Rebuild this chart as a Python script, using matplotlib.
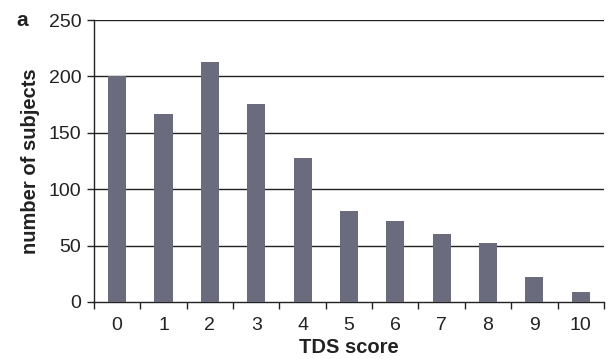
import matplotlib
matplotlib.use("Agg")
import matplotlib.pyplot as plt
import numpy as np

scores = [0, 1, 2, 3, 4, 5, 6, 7, 8, 9, 10]
subjects = [200, 167, 213, 176, 128, 81, 72, 60, 52, 22, 9]
yticks = [0, 50, 100, 150, 200, 250]

plt.rcParams['font.family'] = ['Liberation Sans', 'DejaVu Sans']

fig = plt.figure(figsize=(6.1, 3.59), dpi=100)
ax = fig.add_axes([0.154, 0.159, 0.836, 0.785])

x = np.arange(len(scores))
ax.bar(x, subjects, width=0.39, color='#6a6b7c', zorder=3)

ax.set_xlim(-0.5, len(scores) - 0.5)
ax.set_ylim(0, 250)
ax.set_yticks(yticks)
for y in yticks[1:]:
    ax.axhline(y, color='#222222', lw=1.0, zorder=1)

ax.set_xticks(x)
ax.set_xticklabels([str(s) for s in scores])
ax.set_xticks(np.arange(-0.5, len(scores)), minor=True)
ax.tick_params(axis='x', which='major', length=0, pad=11, labelsize=14, labelcolor='#222222')
ax.tick_params(axis='x', which='minor', length=5, width=1, direction='out', color='#222222')
ax.tick_params(axis='y', length=5, width=1, pad=4, labelsize=14, color='#222222', labelcolor='#222222')

for s in ['top', 'right']:
    ax.spines[s].set_visible(False)
for s in ['left', 'bottom']:
    ax.spines[s].set_color('#222222')
    ax.spines[s].set_linewidth(1.0)

ax.set_xlabel('TDS score', fontsize=14.5, fontweight='bold', labelpad=3, color='#222222')
ax.set_ylabel('number of subjects', fontsize=14.5, fontweight='bold', labelpad=6, color='#222222')
fig.text(0.027, 0.944, 'a', fontsize=15, fontweight='bold', ha='left', va='center', color='#222222')

fig.savefig('out.png', dpi=100)
